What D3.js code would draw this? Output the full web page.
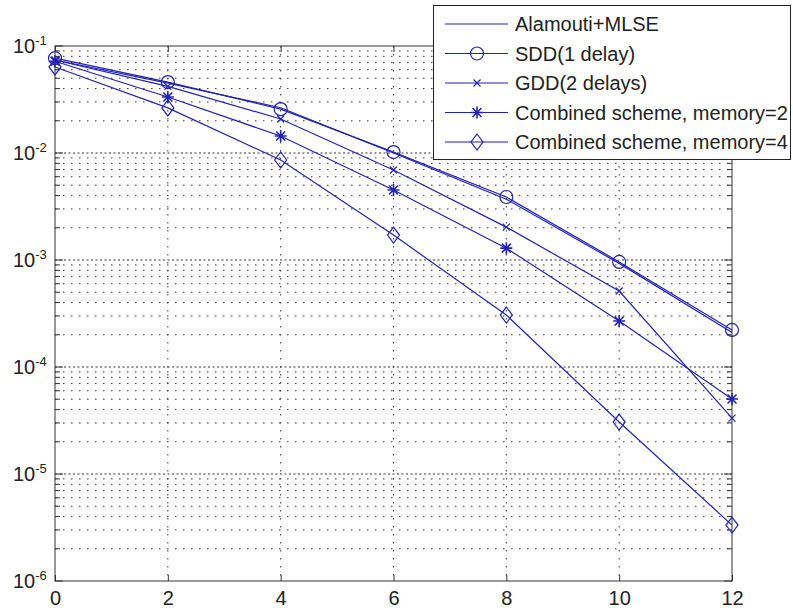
<!DOCTYPE html>
<html>
<head>
    <script src="https://d3js.org/d3.v7.min.js"></script>
    <style>
        body { margin: 0; background: #fff; }
        text { font-family: "Liberation Sans", Arial, sans-serif; fill: #222; }
    </style>
</head>
<body>
    <svg id="chart" width="793" height="608"></svg>
    <script>
        // SNR points (x axis)
        var snr = [0, 2, 4, 6, 8, 10, 12];

        // BER curves
        var alamouti = [0.074, 0.045, 0.0265, 0.0100, 0.0037, 0.00093, 0.00021];
        var sdd = [0.077, 0.046, 0.0257, 0.0102, 0.00388, 0.00096, 0.000222];
        var gdd = [0.074, 0.042, 0.0208, 0.00693, 0.00203, 0.000513, 0.0000333];
        var comb2 = [0.072, 0.0334, 0.0144, 0.00451, 0.00129, 0.000269, 0.0000502];
        var comb4 = [0.0637, 0.0264, 0.0086, 0.00171, 0.000306, 0.0000306, 0.00000333];

        var xTicks = [0, 2, 4, 6, 8, 10, 12];
        var yDecades = [1e-1, 1e-2, 1e-3, 1e-4, 1e-5, 1e-6];
        var yExponents = ["-1", "-2", "-3", "-4", "-5", "-6"];

        var series = [
            { name: "Alamouti+MLSE", values: alamouti, marker: "none" },
            { name: "SDD(1 delay)", values: sdd, marker: "circle" },
            { name: "GDD(2 delays)", values: gdd, marker: "x" },
            { name: "Combined scheme, memory=2", values: comb2, marker: "star" },
            { name: "Combined scheme, memory=4", values: comb4, marker: "diamond" }
        ];

        var blue = "#2222b4";
        // plot box (window.top is read-only, so no "top" here)
        var pL = 55, pR = 732, pT = 46, pB = 581;

        var svg = d3.select("#chart");

        var x = d3.scaleLinear().domain([0, 12]).range([pL, pR]);
        var y = d3.scaleLog().domain([1e-6, 1e-1]).range([pB, pT]);

        // minor values 2..9 within each decade
        var minors = [];
        yDecades.slice(1).forEach(function (d) {
            for (var m = 2; m <= 9; m++) minors.push(d * m);
        });

        var grid = svg.append("g");
        // horizontal minor grid
        grid.selectAll("line.hmin")
            .data(minors)
            .enter().append("line")
            .attr("x1", pL).attr("x2", pR)
            .attr("y1", d => y(d)).attr("y2", d => y(d))
            .attr("stroke", "#333")
            .attr("stroke-dasharray", "1.5,6.5");
        // decade grid (denser)
        grid.selectAll("line.hmaj")
            .data(yDecades.slice(1, 5))
            .enter().append("line")
            .attr("x1", pL).attr("x2", pR)
            .attr("y1", d => y(d)).attr("y2", d => y(d))
            .attr("stroke", "#333")
            .attr("stroke-dasharray", "2,2.5");
        // vertical grid
        grid.selectAll("line.v")
            .data(xTicks.slice(1, 6))
            .enter().append("line")
            .attr("x1", d => x(d)).attr("x2", d => x(d))
            .attr("y1", pT).attr("y2", pB)
            .attr("stroke", "#333")
            .attr("stroke-dasharray", "1.5,6.5");

        // x axis (inner ticks)
        svg.append("g")
            .attr("transform", "translate(0," + pB + ")")
            .call(d3.axisBottom(x).tickValues(xTicks).tickSize(-6).tickPadding(10).tickFormat(d3.format("d")))
            .call(g => g.select(".domain").remove())
            .call(g => g.selectAll("line").attr("stroke", "#333"))
            .call(g => g.selectAll("text").attr("font-size", 20).attr("fill", "#222")
                .attr("font-family", "Liberation Sans, Arial, sans-serif"));
        svg.append("g")
            .attr("transform", "translate(0," + pT + ")")
            .call(d3.axisTop(x).tickValues(xTicks).tickSize(-6).tickFormat(""))
            .call(g => g.select(".domain").remove())
            .call(g => g.selectAll("line").attr("stroke", "#333"));

        // y axis ticks, left and right
        [[pL, 1], [pR, -1]].forEach(function (s) {
            var g = svg.append("g");
            g.selectAll("line.maj")
                .data(yDecades)
                .enter().append("line")
                .attr("x1", s[0]).attr("x2", s[0] + s[1] * 8)
                .attr("y1", d => y(d)).attr("y2", d => y(d))
                .attr("stroke", "#333");
            g.selectAll("line.min")
                .data(minors)
                .enter().append("line")
                .attr("x1", s[0]).attr("x2", s[0] + s[1] * 5)
                .attr("y1", d => y(d)).attr("y2", d => y(d))
                .attr("stroke", "#333");
        });

        // y labels 10^n
        var ylab = svg.append("g").selectAll("text")
            .data(yDecades)
            .enter().append("text")
            .attr("x", 13)
            .attr("y", d => y(d) + 7)
            .attr("font-size", 20);
        ylab.append("tspan").text("10");
        ylab.append("tspan")
            .attr("dy", -8)
            .attr("font-size", 13)
            .text((d, i) => yExponents[i]);

        // frame
        svg.append("rect")
            .attr("x", pL).attr("y", pT)
            .attr("width", pR - pL).attr("height", pB - pT)
            .attr("fill", "none")
            .attr("stroke", "#333");

        var line = d3.line()
            .x((d, i) => x(snr[i]))
            .y(d => y(d));

        function drawMarker(g, type, cx, cy) {
            if (type === "circle") {
                g.append("circle").attr("cx", cx).attr("cy", cy).attr("r", 6.5)
                    .attr("fill", "none").attr("stroke", blue).attr("stroke-width", 1.2);
            } else if (type === "x") {
                g.append("path")
                    .attr("d", "M" + (cx - 3.5) + "," + (cy - 3.5) + "L" + (cx + 3.5) + "," + (cy + 3.5) +
                        "M" + (cx - 3.5) + "," + (cy + 3.5) + "L" + (cx + 3.5) + "," + (cy - 3.5))
                    .attr("stroke", blue).attr("stroke-width", 1.2);
            } else if (type === "star") {
                g.append("path")
                    .attr("d", "M" + (cx - 6) + "," + cy + "L" + (cx + 6) + "," + cy +
                        "M" + cx + "," + (cy - 6) + "L" + cx + "," + (cy + 6) +
                        "M" + (cx - 4.5) + "," + (cy - 4.5) + "L" + (cx + 4.5) + "," + (cy + 4.5) +
                        "M" + (cx - 4.5) + "," + (cy + 4.5) + "L" + (cx + 4.5) + "," + (cy - 4.5))
                    .attr("stroke", blue).attr("stroke-width", 1.6);
            } else if (type === "diamond") {
                g.append("path")
                    .attr("d", "M" + cx + "," + (cy - 8) + "L" + (cx + 6) + "," + cy +
                        "L" + cx + "," + (cy + 8) + "L" + (cx - 6) + "," + cy + "Z")
                    .attr("fill", "none").attr("stroke", blue).attr("stroke-width", 1.2);
            }
        }

        var plot = svg.append("g");
        series.forEach(function (s) {
            plot.append("path")
                .datum(s.values)
                .attr("d", line)
                .attr("fill", "none")
                .attr("stroke", blue)
                .attr("stroke-width", 1.2);
            s.values.forEach(function (v, i) {
                drawMarker(plot, s.marker, x(snr[i]), y(v));
            });
        });

        // legend
        var lg = svg.append("g");
        lg.append("rect")
            .attr("x", 433.5).attr("y", 5.5)
            .attr("width", 357).attr("height", 154)
            .attr("fill", "#fff")
            .attr("stroke", "#222");
        series.forEach(function (s, i) {
            var cy = 24 + i * 29.5;
            lg.append("line")
                .attr("x1", 445).attr("x2", 508)
                .attr("y1", cy).attr("y2", cy)
                .attr("stroke", blue).attr("stroke-width", 1.2);
            drawMarker(lg, s.marker, 477, cy);
            lg.append("text")
                .attr("x", 515).attr("y", cy + 7)
                .attr("font-size", 20)
                .text(s.name);
        });
    </script>
</body>
</html>
